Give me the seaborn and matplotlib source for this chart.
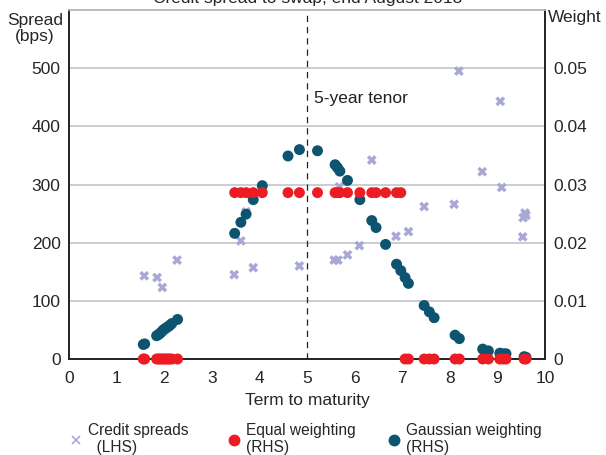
import numpy as np
import pandas as pd
import seaborn as sns
import matplotlib.pyplot as plt
from matplotlib.lines import Line2D

sns.set_style("white")
plt.rcParams['font.family'] = ['Liberation Sans', 'DejaVu Sans']

# credit spreads (LHS, bps)
spread_term = [1.58, 1.85, 1.96, 2.27, 3.47, 3.61, 3.72, 3.87, 4.84, 5.57, 5.65,
               5.68, 5.85, 6.10, 6.36, 6.87, 7.13, 7.46, 8.09, 8.19, 8.68, 9.06,
               9.09, 9.53, 9.54, 9.58, 9.60]
spread_bps = [143, 140, 123, 170, 145, 203, 253, 157, 160, 170, 170,
              296, 179, 195, 342, 211, 219, 262, 266, 495, 322, 443,
              295, 210, 243, 251, 247]

# bond terms used for the weights (RHS)
bond_term = [1.56, 1.59, 1.84, 1.88, 1.91, 1.95, 1.98, 2.02, 2.05, 2.09, 2.12, 2.16,
             2.28, 3.48, 3.61, 3.72, 3.87, 4.06, 4.60, 4.84, 5.22, 5.59, 5.64,
             5.69, 5.85, 6.11, 6.36, 6.45, 6.65, 6.88, 6.97, 7.06, 7.13, 7.46,
             7.57, 7.67, 8.11, 8.20, 8.69, 8.81, 9.05, 9.12, 9.18, 9.56, 9.60]
gauss_weight = [0.0025, 0.0026, 0.0040, 0.0042, 0.0044, 0.0047, 0.0050, 0.0052,
                0.0054, 0.0056, 0.0058, 0.0061, 0.0068, 0.0216, 0.0235, 0.0249,
                0.0274, 0.0298, 0.0349, 0.0360, 0.0358, 0.0334, 0.0329, 0.0323,
                0.0307, 0.0274, 0.0238, 0.0226, 0.0197, 0.0163, 0.0152, 0.0140,
                0.0130, 0.0092, 0.0081, 0.0071, 0.0041, 0.0035, 0.0017, 0.0014,
                0.0010, 0.0009, 0.0009, 0.0004, 0.0003]
equal_weight = [0.0] * 13 + [0.0286] * 18 + [0.0] * 14

purple = '#a8a8d6'
red = '#ec1c24'
teal = '#0d5470'
fs = 12.5

fig = plt.figure(figsize=(6.06, 4.55), dpi=100)
ax = fig.add_axes([0.1139, 0.211, 0.7855, 0.767])
ax2 = ax.twinx()

spreads = pd.DataFrame({'term': spread_term, 'spread': spread_bps})
weights = pd.DataFrame({'term': bond_term, 'gauss': gauss_weight, 'equal': equal_weight})

sns.scatterplot(data=spreads, x='term', y='spread', ax=ax, marker='X', s=50,
                color=purple, edgecolor='none', zorder=3)
sns.scatterplot(data=weights, x='term', y='gauss', ax=ax2, s=62,
                color=teal, edgecolor='none', zorder=3)
sns.scatterplot(data=weights, x='term', y='equal', ax=ax2, s=62,
                color=red, edgecolor='none', zorder=4, clip_on=False)

ax.set_xlim(0, 10)
ax.set_ylim(0, 600)
ax2.set_ylim(0, 0.06)
ax.set_xticks(range(11))
ax.set_yticks([0, 100, 200, 300, 400, 500])
ax2.set_yticks([0, 0.01, 0.02, 0.03, 0.04, 0.05])
ax2.set_yticklabels(['0', '0.01', '0.02', '0.03', '0.04', '0.05'])
ax.grid(axis='y', color='#c4c4cc', lw=1.2)
ax.set_axisbelow(True)

ax.tick_params(axis='x', direction='in', length=5, width=1, color='#333333',
               labelsize=fs, pad=9)
ax.tick_params(axis='y', length=0, labelsize=fs, pad=6)
ax2.tick_params(axis='y', length=0, labelsize=fs, pad=6)

for a in (ax, ax2):
    a.spines['top'].set_color('#bbbbbb')
    a.spines['top'].set_linewidth(1.2)
    for s in ('left', 'right', 'bottom'):
        a.spines[s].set_color('#222222')
        a.spines[s].set_linewidth(1.2)

ax.set_xlabel('Term to maturity', fontsize=fs, labelpad=5)
ax.set_ylabel('')
ax2.set_ylabel('')

ax.axvline(5, color='#222222', lw=0.9, ls=(0, (5, 4)), zorder=2)
ax.text(5.15, 440, '5-year tenor', fontsize=fs, color='#222222')

fig.text(0.058, 0.937, 'Spread\n(bps)', ha='center', va='center', fontsize=fs,
         linespacing=1.1)
fig.text(0.948, 0.962, 'Weight', ha='center', va='center', fontsize=fs)
fig.text(0.507, 1 - 3 / 455, 'Credit spread to swap, end August 2018',
         ha='center', va='baseline', fontsize=fs)

# legend entries placed one by one under the axes
entries = [
    (Line2D([], [], ls='none', marker='x', color=purple, markersize=6, mew=1.2),
     'Credit spreads\n  (LHS)', 0.118),
    (Line2D([], [], ls='none', marker='o', color=red, markersize=7.5),
     'Equal weighting\n(RHS)', 0.379),
    (Line2D([], [], ls='none', marker='o', color=teal, markersize=7.5),
     'Gaussian weighting\n(RHS)', 0.643),
]
for h, lab, xpos in entries:
    fig.legend([h], [lab], loc='center left', bbox_to_anchor=(xpos, 0.035),
               frameon=False, fontsize=11.2, handlelength=0.6, handletextpad=0.45,
               borderpad=0, borderaxespad=0)

fig.savefig('out.png', dpi=100)
